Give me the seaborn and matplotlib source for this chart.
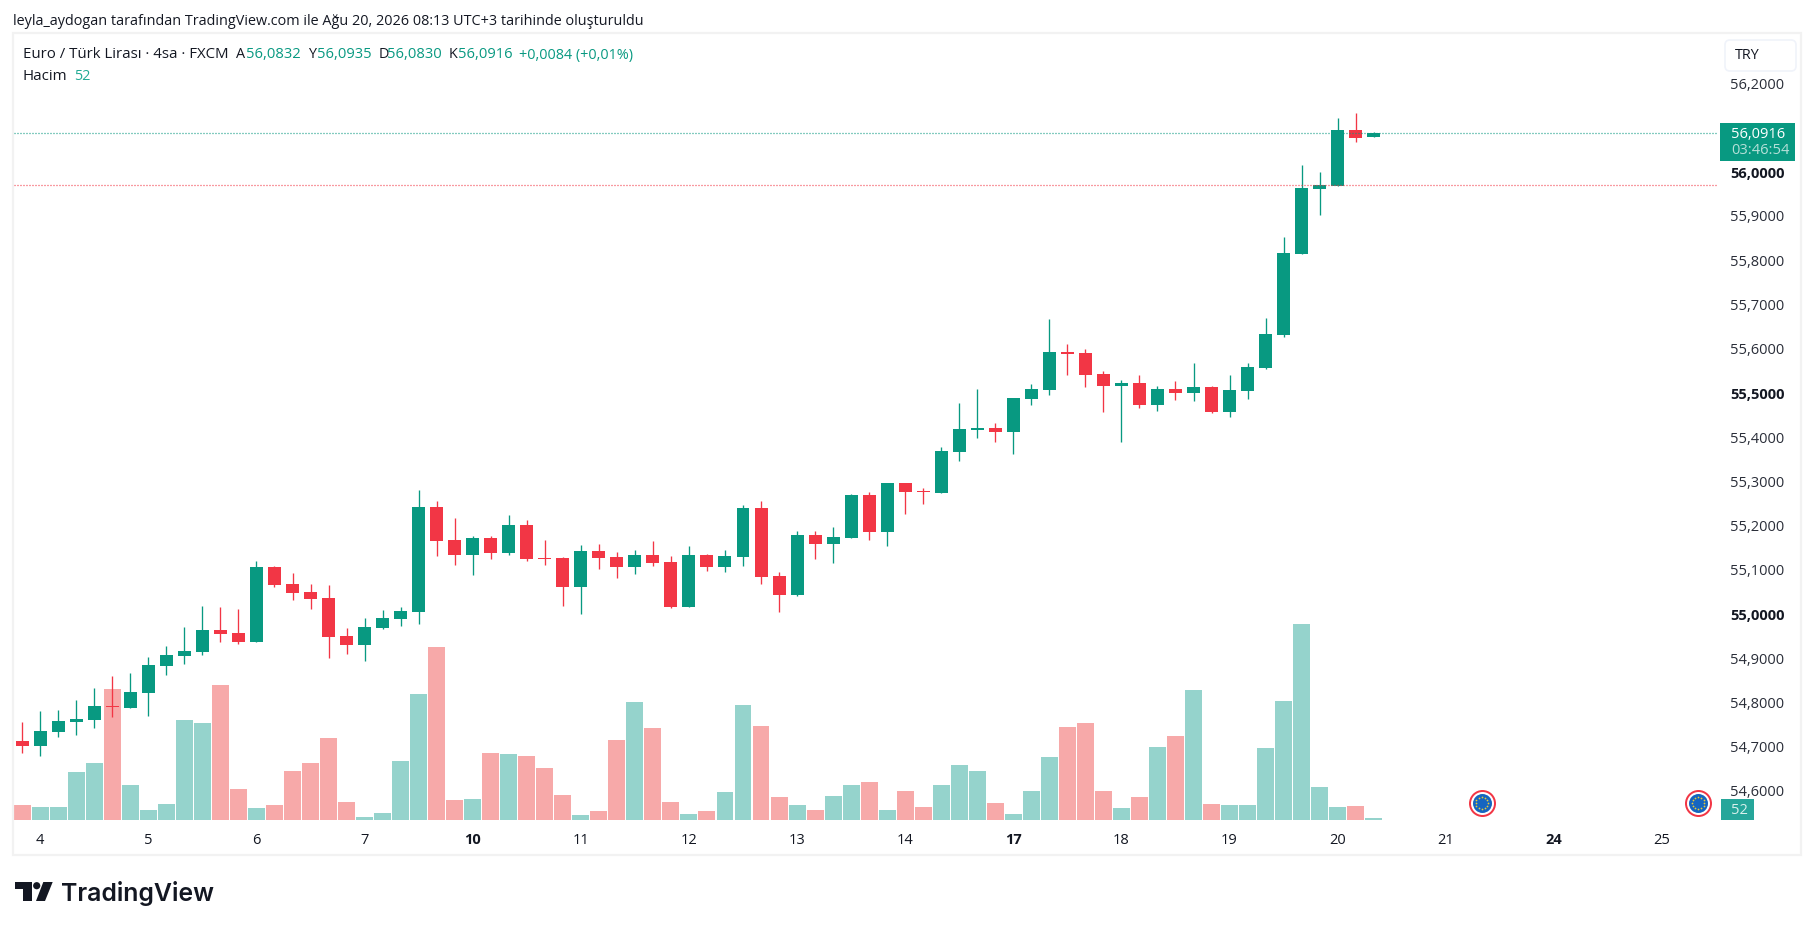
import matplotlib
matplotlib.use('Agg')
import matplotlib.pyplot as plt
from matplotlib.patches import Rectangle, FancyBboxPatch, Circle, Polygon
import numpy as np
import pandas as pd
import seaborn as sns

# OHLC, 4h bars
opens = [54.7174, 54.7068, 54.7385, 54.7611, 54.7656, 54.7958, 54.7928, 54.8267, 54.8877, 54.9103,
         54.9194, 54.9684, 54.9616, 54.9420, 55.1108, 55.0724, 55.0543, 55.0407, 54.9548, 54.9352,
         54.9736, 54.9940, 55.0098, 55.2465, 55.1718, 55.1387, 55.1764, 55.1432, 55.2058, 55.1311,
         55.1311, 55.0663, 55.1470, 55.1335, 55.1109, 55.1380, 55.1222, 55.0212, 55.1380, 55.1109,
         55.1335, 55.2443, 55.0905, 55.0476, 55.1832, 55.1629, 55.1764, 55.2736, 55.1900, 55.3008,
         55.2827, 55.2781, 55.3708, 55.4206, 55.4251, 55.4161, 55.4907, 55.5110, 55.5969, 55.5947,
         55.5472, 55.5201, 55.5268, 55.4771, 55.5133, 55.5042, 55.5178, 55.4613, 55.5088, 55.5608,
         55.6354, 55.8185, 55.9655, 55.9723, 56.0989, 56.0832]
highs = [54.7604, 54.7852, 54.7875, 54.8101, 54.8372, 54.8644, 54.8711, 54.9073, 54.9322, 54.9751,
         55.0226, 55.0204, 55.0158, 55.1244, 55.1131, 55.0972, 55.0724, 55.0701, 54.9729, 54.9955,
         55.0136, 55.0204, 55.2849, 55.2600, 55.2216, 55.1809, 55.1809, 55.2284, 55.2171, 55.1718,
         55.1334, 55.1605, 55.1628, 55.1448, 55.1493, 55.1696, 55.1357, 55.1583, 55.1403, 55.1493,
         55.2510, 55.2601, 55.0996, 55.1923, 55.1923, 55.2013, 55.2759, 55.2804, 55.3008, 55.3008,
         55.2895, 55.3821, 55.4816, 55.5133, 55.4364, 55.4929, 55.5246, 55.6715, 55.6150, 55.6037,
         55.5540, 55.5336, 55.5449, 55.5201, 55.5314, 55.5721, 55.5201, 55.5449, 55.5721, 55.6738,
         55.8569, 56.0197, 56.0039, 56.1260, 56.1373, 56.0935]
lows = [54.6910, 54.6842, 54.7272, 54.7317, 54.7475, 54.7724, 54.7928, 54.7747, 54.8674, 54.8922,
        54.9126, 54.9420, 54.9375, 54.9420, 55.0663, 55.0369, 55.0166, 54.9058, 54.9149, 54.8990,
        54.9714, 54.9782, 54.9827, 55.1364, 55.1161, 55.0935, 55.1296, 55.1387, 55.1251, 55.1161,
        55.0234, 55.0053, 55.1070, 55.0867, 55.0958, 55.1131, 55.0189, 55.0212, 55.1026, 55.1003,
        55.1131, 55.0732, 55.0099, 55.0461, 55.1297, 55.1207, 55.1764, 55.1719, 55.1583, 55.2314,
        55.2533, 55.2781, 55.3505, 55.4025, 55.3934, 55.3671, 55.4771, 55.4997, 55.5449, 55.5178,
        55.4613, 55.3935, 55.4703, 55.4635, 55.4884, 55.4862, 55.4590, 55.4500, 55.4907, 55.5585,
        55.6309, 55.8185, 55.9067, 55.9723, 56.0717, 56.0830]
closes = [54.7068, 54.7400, 54.7626, 54.7671, 54.7965, 54.7950, 54.8282, 54.8892, 54.9118, 54.9209,
          54.9684, 54.9601, 54.9420, 55.1108, 55.0709, 55.0528, 55.0392, 54.9533, 54.9352, 54.9751,
          54.9955, 55.0113, 55.2465, 55.1703, 55.1387, 55.1764, 55.1432, 55.2058, 55.1296, 55.1296,
          55.0663, 55.1470, 55.1319, 55.1109, 55.1380, 55.1199, 55.0212, 55.1380, 55.1109, 55.1357,
          55.2443, 55.0890, 55.0476, 55.1832, 55.1629, 55.1787, 55.2736, 55.1900, 55.3008, 55.2804,
          55.2812, 55.3731, 55.4228, 55.4251, 55.4161, 55.4929, 55.5133, 55.5969, 55.5924, 55.5449,
          55.5201, 55.5268, 55.4771, 55.5133, 55.5042, 55.5178, 55.4613, 55.5110, 55.5630, 55.6376,
          55.8208, 55.9677, 55.9745, 56.0989, 56.0808, 56.0916]
volumes = [390, 338, 338, 1248, 1482, 3406, 910, 260, 416, 2600,
           2522, 3510, 806, 312, 390, 1274, 1482, 2132, 468, 78,
           182, 1534, 3276, 4498, 520, 546, 1742, 1716, 1664, 1352,
           650, 130, 234, 2080, 3068, 2392, 468, 156, 234, 728,
           2990, 2444, 598, 390, 260, 624, 910, 988, 260, 754,
           338, 910, 1430, 1274, 442, 156, 754, 1638, 2418, 2522,
           754, 312, 598, 1898, 2184, 3380, 416, 390, 390, 1872,
           3094, 5096, 858, 338, 364, 52]

day_labels = ['4', '5', '6', '7', '10', '11', '12', '13', '14', '17', '18', '19', '20', '21', '24', '25']
day_bars = [1, 7, 13, 19, 25, 31, 37, 43, 49, 55, 61, 67, 73, 79, 85, 91]
bold_days = ['10', '17', '24']
price_ticks = [54.6, 54.7, 54.8, 54.9, 55.0, 55.1, 55.2, 55.3, 55.4, 55.5, 55.6, 55.7, 55.8, 55.9, 56.0, 56.2]
bold_prices = [55.0, 55.5, 56.0]
last_price = 56.0916
prev_close = 55.9738
event_bars = [81, 93]
event_price = 54.5775

GREEN = '#089981'
RED = '#f23645'
GREEN_VOL = '#95d3cc'
RED_VOL = '#f7a9a9'
TEXT = '#131722'
FONT = 'Open Sans'

sns.set_theme(style='white')
plt.rcParams['font.family'] = [FONT, 'DejaVu Sans']
plt.rcParams['ytick.alignment'] = 'center'

W, H = 1814, 930
fig = plt.figure(figsize=(W / 100, H / 100), dpi=100, facecolor='white')

# pane in pixels
L, R, T, B = 14, 1718, 36, 820
pos = [L / W, 1 - B / H, (R - L) / W, (B - T) / H]
vol_ax = fig.add_axes(pos, zorder=1)
ax = fig.add_axes(pos, zorder=2)
ax.patch.set_visible(False)

df = pd.DataFrame({'bar': np.arange(len(opens)), 'open': opens, 'high': highs,
                   'low': lows, 'close': closes, 'volume': volumes})
df['up'] = df['close'] >= df['open']
df['bottom'] = df[['open', 'close']].min(axis=1)
df['body'] = (df['close'] - df['open']).abs().clip(lower=0.0025)

for up, color, vol_color in [(True, GREEN, GREEN_VOL), (False, RED, RED_VOL)]:
    part = df[df['up'] == up]
    sns.barplot(data=part, x='bar', y='volume', native_scale=True, color=vol_color, saturation=1,
                width=0.94, errorbar=None, linewidth=0, ax=vol_ax)
    ax.vlines(part['bar'], part['low'], part['high'], color=color, linewidth=0.95)
    sns.barplot(data=part, x='bar', y='body', bottom=part['bottom'].values, native_scale=True,
                color=color, saturation=1, width=0.72, errorbar=None, linewidth=0, ax=ax)

# 18.02 px per bar / 442.3 px per 1.0 TRY / 26 lots per px
x0 = (L - 22.2) / 18.02
x1 = (R - 22.2) / 18.02
for a in (ax, vol_ax):
    a.set_xlim(x0, x1)
    a.set_xlabel('')
    a.set_ylabel('')
ax.set_ylim(56 - (B - 173.7) / 442.3, 56 + (173.7 - T) / 442.3)
vol_ax.set_ylim(0, (B - T) * 26)
vol_ax.set_xticks([])
vol_ax.set_yticks([])
sns.despine(ax=vol_ax, left=True, bottom=True)
sns.despine(ax=ax, left=True, bottom=True)

ax.hlines(last_price, x0, x1, color=GREEN, linewidth=0.9, linestyle=(0, (0.8, 1.6)))
ax.hlines(prev_close, x0, x1, color=RED, linewidth=0.9, linestyle=(0, (0.8, 1.6)))

ax.set_xticks(day_bars)
ax.set_xticklabels(day_labels, fontsize=10.5, color=TEXT)
for lab in ax.get_xticklabels():
    if lab.get_text() in bold_days:
        lab.set_fontweight('bold')
ax.yaxis.tick_right()
ax.set_yticks(price_ticks)
ax.set_yticklabels([f'{p:.4f}'.replace('.', ',') for p in price_ticks], fontsize=10.5, color='#2a2e39')
for lab, p in zip(ax.get_yticklabels(), price_ticks):
    if p in bold_prices:
        lab.set_fontweight('bold')
        lab.set_color(TEXT)
ax.tick_params(axis='x', length=0, pad=9)
ax.tick_params(axis='y', length=0, pad=8.5)

# calendar markers
for size, col in [(378, RED), (274, 'white'), (187, '#1565c0')]:
    sns.scatterplot(x=event_bars, y=[event_price] * 2, s=size, color=col, linewidth=0, ax=ax, clip_on=False, zorder=5)

# everything around the chart, in pixel coordinates
over = fig.add_axes([0, 0, 1, 1], zorder=3)
over.set_xlim(0, W)
over.set_ylim(H, 0)
over.axis('off')
over.patch.set_visible(False)

over.add_patch(Rectangle((13, 33), 1788, 822, fill=False, edgecolor='#f2f2f2', linewidth=1.6))

for cx in ax.transData.transform([(b, event_price) for b in event_bars])[:, 0]:
    ang = np.linspace(0, 2 * np.pi, 12, endpoint=False)
    over.scatter(cx + 6.3 * np.cos(ang), 803 + 6.3 * np.sin(ang), s=1.6, color='#e8c93a', linewidth=0)

over.text(13, 21.5, 'leyla_aydogan tarafından TradingView.com ile Ağu 20, 2026 08:13 UTC+3 tarihinde oluşturuldu',
          fontsize=10.4, color=TEXT, va='center')

row = 55
over.text(23, row, 'Euro / Türk Lirası · 4sa · FXCM', fontsize=10.8, color=TEXT, va='center')
for x_lab, lab, x_val, val in [(236.5, 'A', 246, '56,0832'), (308, 'Y', 317, '56,0935'),
                               (378.5, 'D', 387.5, '56,0830'), (449, 'K', 458, '56,0916')]:
    over.text(x_lab, row, lab, fontsize=10.4, color=TEXT, va='center')
    over.text(x_val, row, val, fontsize=10.6, color=GREEN, va='center')
over.text(519, row, '+0,0084 (+0,01%)', fontsize=10.4, color=GREEN, va='center')
over.text(23, 76, 'Hacim', fontsize=10.8, color=TEXT, va='center')
over.text(74, 76, '52', fontsize=10.4, color='#22ab94', va='center')

over.add_patch(FancyBboxPatch((1725, 40), 71, 31, boxstyle='round,pad=0,rounding_size=5',
                              facecolor='white', edgecolor='#f0f3fa', linewidth=1.2))
over.text(1735, 55.5, 'TRY', fontsize=10.4, color=TEXT, va='center')

over.add_patch(Rectangle((1720, 123), 75, 38, facecolor=GREEN, edgecolor='none'))
over.text(1731, 134.5, '56,0916', fontsize=10.5, color='white', va='center')
over.text(1731, 150, '03:46:54', fontsize=10.5, color='#b5e0d8', va='center')

over.add_patch(Rectangle((1721, 799), 33, 21, facecolor='#26a69a', edgecolor='none'))
over.text(1739, 810, '52', fontsize=10.5, color='#d8f0ec', va='center', ha='center')

# logo
over.add_patch(Polygon([(15.3, 882), (31.7, 882), (31.7, 901), (23.3, 901), (23.3, 889.3), (15.3, 889.3)],
                       facecolor='#131722', edgecolor='none'))
over.add_patch(Circle((36.7, 885.7), 3.6, facecolor='#131722', edgecolor='none'))
over.add_patch(Polygon([(43.3, 882), (52.7, 882), (45, 901), (36, 901)], facecolor='#131722', edgecolor='none'))
over.text(61.5, 900.7, 'TradingView', fontsize=17.9, family='Inter', fontweight='semibold', color='#131722', va='baseline')

fig.savefig('out.png', dpi=100, facecolor='white')
